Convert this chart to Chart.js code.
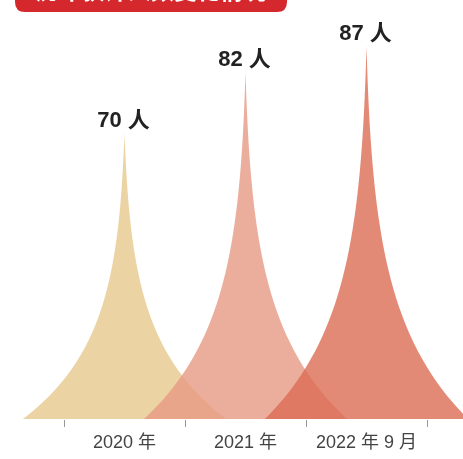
<!DOCTYPE html>
<html>
<head>
<meta charset="utf-8">
<script src="https://cdn.jsdelivr.net/npm/chart.js@4"></script>
<style>
html,body{margin:0;padding:0;background:#fff;}
#wrap{width:463px;height:459px;position:relative;}
</style>
</head>
<body>
<div id="wrap"><canvas id="c" width="463" height="459"></canvas></div>
<script>
const categories = ['2020 年', '2021 年', '2022 年 9 月'];
const values = [70, 82, 87];
const unit = ' 人';
const titleText = '历年获评人数变化情况';
const spikeColors = ['rgba(230,200,140,0.8)', 'rgba(231,154,131,0.8)', 'rgba(220,109,85,0.8)'];

const spikePlugin = {
  id: 'spikes',
  beforeDraw(chart) {
    const ctx = chart.ctx;
    ctx.save();
    ctx.fillStyle = '#d4282d';
    const x0 = 15, x1 = 287, y1 = 12, r = 10;
    ctx.beginPath();
    ctx.moveTo(x0, -20);
    ctx.lineTo(x1, -20);
    ctx.lineTo(x1, y1 - r);
    ctx.quadraticCurveTo(x1, y1, x1 - r, y1);
    ctx.lineTo(x0 + r, y1);
    ctx.quadraticCurveTo(x0, y1, x0, y1 - r);
    ctx.closePath();
    ctx.fill();
    ctx.fillStyle = '#ffffff';
    ctx.font = 'bold 23px "Noto Sans CJK SC", sans-serif';
    ctx.textAlign = 'center';
    ctx.textBaseline = 'alphabetic';
    ctx.fillText(titleText, (x0 + x1) / 2, -1.5);
    ctx.restore();
  },
  afterDatasetsDraw(chart) {
    const ctx = chart.ctx;
    const meta = chart.getDatasetMeta(0);
    const xs = chart.scales.x;
    const ys = chart.scales.y;
    const catW = xs.width / categories.length;
    const W = catW * 0.84;
    const k = 3.6;
    const ek = Math.exp(-k);
    const f = h => (Math.exp(-k * h) - ek) / (1 - ek);
    const base = ys.getPixelForValue(ys.min) - 1;
    meta.data.forEach((el, i) => {
      const cx = el.x, top = el.y;
      const H = base - top;
      ctx.save();
      ctx.fillStyle = spikeColors[i];
      ctx.beginPath();
      const N = 100;
      ctx.moveTo(cx - W, base);
      for (let j = 1; j <= N; j++) {
        const h = j / N;
        ctx.lineTo(cx - W * f(h), base - h * H);
      }
      for (let j = N - 1; j >= 0; j--) {
        const h = j / N;
        ctx.lineTo(cx + W * f(h), base - h * H);
      }
      ctx.closePath();
      ctx.fill();
      ctx.restore();
    });
    meta.data.forEach((el, i) => {
      ctx.save();
      ctx.fillStyle = '#222';
      ctx.font = 'bold 22px "Liberation Sans", "Noto Sans CJK SC", sans-serif';
      ctx.textAlign = 'center';
      ctx.textBaseline = 'alphabetic';
      ctx.fillText(values[i] + unit, el.x - 1, el.y - 6);
      ctx.restore();
    });
  }
};

new Chart(document.getElementById('c'), {
  type: 'bar',
  data: {
    labels: categories,
    datasets: [{
      data: values,
      backgroundColor: 'rgba(0,0,0,0)',
      borderWidth: 0
    }]
  },
  options: {
    responsive: false,
    animation: false,
    events: [],
    layout: { padding: { left: 64, right: 36, top: 0, bottom: 0 } },
    plugins: { legend: { display: false }, tooltip: { enabled: false } },
    scales: {
      x: {
        border: { display: false },
        grid: { display: true, drawOnChartArea: false, drawTicks: true, tickLength: 7, color: '#999999', offset: true },
        ticks: {
          color: '#444',
          padding: 7,
          font: { size: 18, lineHeight: 1.0, family: '"Liberation Sans", "Noto Sans CJK SC", sans-serif' }
        }
      },
      y: { display: false, min: 14, max: 96 }
    }
  },
  plugins: [spikePlugin]
});
</script>
</body>
</html>
